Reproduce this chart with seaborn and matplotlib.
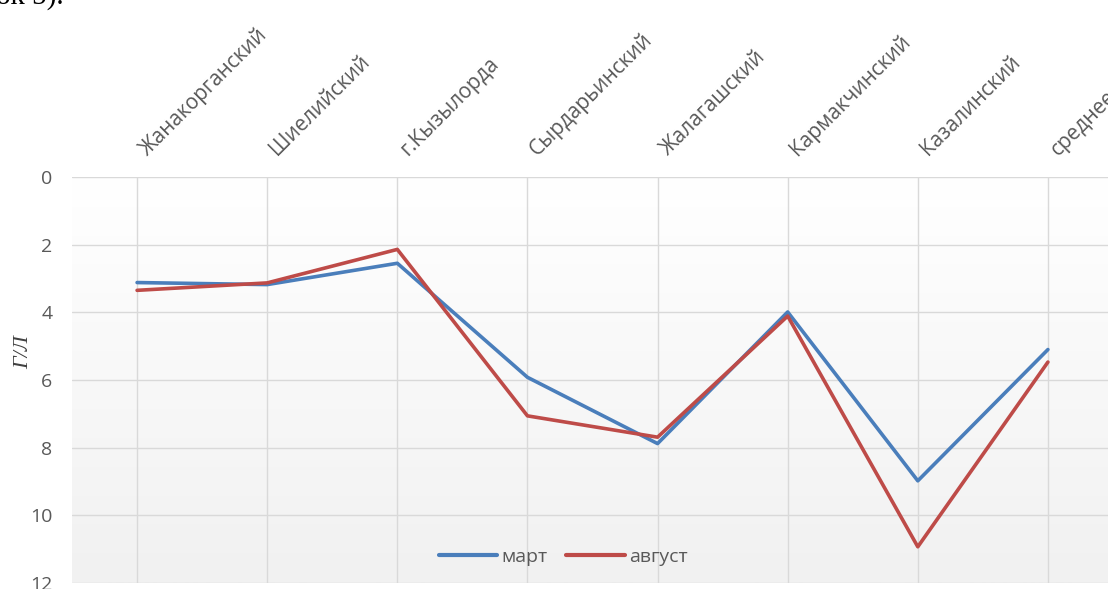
import numpy as np
import pandas as pd
import matplotlib
matplotlib.use("Agg")
import matplotlib.pyplot as plt
import matplotlib.transforms as mtransforms
from matplotlib.colors import LinearSegmentedColormap
import seaborn as sns

categories = ["Жанакорганский", "Шиелийский", "г.Кызылорда", "Сырдарьинский",
              "Жалагашский", "Кармакчинский", "Казалинский", "среднее"]
march = [3.12, 3.18, 2.55, 5.92, 7.88, 3.99, 8.98, 5.10]
august = [3.35, 3.13, 2.14, 7.06, 7.69, 4.11, 10.93, 5.47]
series_names = ["март", "август"]
y_ticks = [0, 2, 4, 6, 8, 10, 12]

df = pd.DataFrame({
    "район": categories * 2,
    "значение": march + august,
    "серия": [series_names[0]] * len(categories) + [series_names[1]] * len(categories),
})

sns.set_theme(style="white")
plt.rcParams["font.family"] = ["Open Sans", "DejaVu Sans"]

fig = plt.figure(figsize=(11.08, 5.89), dpi=100)
ax = fig.add_axes([0.065, 0.0102, 0.9395, 0.6893])

# gradient background
cmap = LinearSegmentedColormap.from_list("bg", ["#ffffff", "#f1f1f1"], N=256)
grad = np.linspace(0, 1, 256).reshape(-1, 1)
ax.imshow(grad, aspect="auto", cmap=cmap, extent=(-0.5, 7.5, 12, 0), zorder=0, origin="upper")

sns.lineplot(data=df, x="район", y="значение", hue="серия", sort=False,
             palette=["#4a7ebb", "#be4b48"], linewidth=2.6, ax=ax, zorder=3,
             legend=True)

ax.set_xlim(-0.5, 7.5)
ax.set_ylim(12, 0)
ax.set_yticks(y_ticks)
ax.set_yticklabels([str(v) for v in y_ticks])
ax.xaxis.tick_top()
ax.set_xticks(range(len(categories)))
ax.tick_params(axis="x", length=0, pad=15)
ax.tick_params(axis="y", length=0, pad=14)
ax.set_xticklabels(categories, rotation=45, ha="left", va="baseline",
                   rotation_mode="anchor")
offset = mtransforms.ScaledTranslation(10 / 100, 0, fig.dpi_scale_trans)
for lbl in ax.get_xticklabels():
    lbl.set_fontsize(15)
    lbl.set_color("#595959")
    lbl.set_transform(lbl.get_transform() + offset)
for lbl in ax.get_yticklabels():
    lbl.set_fontsize(14)
    lbl.set_color("#595959")
ax.set_xlabel("")
ax.set_ylabel("Г/Л", fontsize=16, family="Liberation Serif", style="italic",
              color="#404040")
ax.yaxis.set_label_coords(-0.037, 0.57)

ax.grid(True, color="#d9d9d9", linewidth=1.0)
ax.set_axisbelow(True)
for s in ax.spines.values():
    s.set_visible(False)

handles, labels = ax.get_legend_handles_labels()
leg = ax.legend(handles, labels, loc="center", bbox_to_anchor=(563 / 1108, 1 - 557 / 589),
                bbox_transform=fig.transFigure, ncol=2, frameon=False,
                fontsize=14, handlelength=3.0, columnspacing=1.0, handletextpad=0.2)
for t in leg.get_texts():
    t.set_color("#595959")
for h in leg.get_lines():
    h.set_linewidth(3)

fig.text(-0.004, 1.028, "ок 5).", fontsize=21, family="Liberation Serif",
         color="#000000", ha="left", va="top")

fig.savefig("out.png", dpi=100)
